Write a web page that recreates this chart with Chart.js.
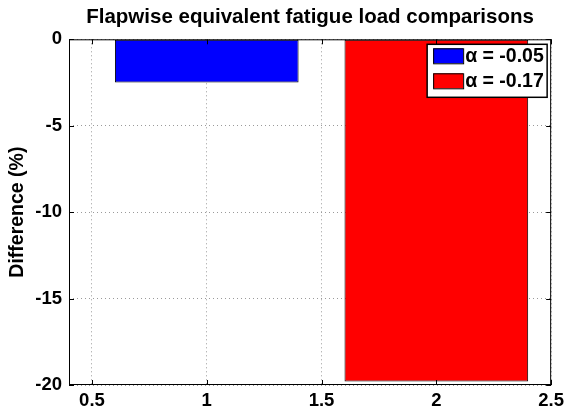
<!DOCTYPE html>
<html>
<head>
<meta charset="utf-8">
<script src="https://cdn.jsdelivr.net/npm/chart.js@4/dist/chart.umd.min.js"></script>
<style>
  html, body { margin: 0; padding: 0; background: #fff; }
  #wrap { width: 569px; height: 414px; }
</style>
</head>
<body>
<div id="wrap"><canvas id="grafico" width="569" height="414"></canvas></div>
<script>
// datos
const xTicks = [0.5, 1, 1.5, 2, 2.5];
const yTicks = [0, -5, -10, -15, -20];
const barX = [1, 2];
const seriesLabels = ['α = -0.05', 'α = -0.17'];
const seriesValues = [-2.5, -19.8];
const seriesColors = ['#0000ff', '#ff0000'];

const FONT = "'Liberation Sans', Arial, sans-serif";

// marco negro, marcas internas y leyenda estilo MATLAB
const marcoPlugin = {
  id: 'marco',
  afterDraw(chart) {
    const { ctx, chartArea: a, scales } = chart;
    ctx.save();
    ctx.strokeStyle = '#000';
    ctx.lineWidth = 1;
    ctx.strokeRect(a.left + 0.5, a.top + 0.5, a.right - a.left - 1, a.bottom - a.top - 1);

    const tl = 5;
    ctx.beginPath();
    xTicks.forEach(v => {
      const px = Math.round(scales.x.getPixelForValue(v)) + 0.5;
      ctx.moveTo(px, a.bottom); ctx.lineTo(px, a.bottom - tl);
      ctx.moveTo(px, a.top); ctx.lineTo(px, a.top + tl);
    });
    yTicks.forEach(v => {
      const py = Math.round(scales.y.getPixelForValue(v)) + 0.5;
      ctx.moveTo(a.left, py); ctx.lineTo(a.left + tl, py);
      ctx.moveTo(a.right, py); ctx.lineTo(a.right - tl, py);
    });
    ctx.stroke();

    // leyenda
    const bx = a.right - 124, by = a.top + 5, bw = 120, bh = 53;
    ctx.fillStyle = '#fff';
    ctx.fillRect(bx, by, bw, bh);
    ctx.lineWidth = 1.5;
    ctx.strokeRect(bx, by, bw, bh);
    ctx.font = 'bold 19.5px ' + FONT;
    ctx.textBaseline = 'middle';
    chart.data.datasets.forEach((ds, i) => {
      const ry = by + 4 + i * 25;
      ctx.fillStyle = ds.backgroundColor;
      ctx.fillRect(bx + 6, ry, 30, 15);
      ctx.lineWidth = 1;
      ctx.strokeStyle = '#000';
      ctx.strokeRect(bx + 6.5, ry + 0.5, 30, 15);
      ctx.fillStyle = '#000';
      ctx.fillText(ds.label, bx + 38, ry + 8.5);
    });
    ctx.restore();
  }
};

const datasets = seriesLabels.map((label, i) => ({
  label,
  data: [{ x: barX[i], y: seriesValues[i] }],
  backgroundColor: seriesColors[i],
  borderColor: '#000',
  borderWidth: 1,
  borderSkipped: false,
  grouped: false,
  categoryPercentage: 0.8,
  barPercentage: 1,
  xAxisID: 'xb'
}));

new Chart(document.getElementById('grafico'), {
  type: 'bar',
  data: { datasets },
  options: {
    responsive: false,
    animation: false,
    devicePixelRatio: 1,
    layout: { padding: { left: 0, right: 16, top: 0, bottom: 0 } },
    plugins: {
      legend: { display: false },
      tooltip: { enabled: false },
      title: {
        display: true,
        fullSize: false,
        text: 'Flapwise equivalent fatigue load comparisons',
        color: '#000',
        font: { family: FONT, size: 20.5, weight: 'bold' },
        padding: { top: 5, bottom: 9.7 }
      }
    },
    scales: {
      x: {
        type: 'linear',
        position: 'bottom',
        offset: false,
        min: 0.4,
        max: 2.5,
        afterBuildTicks: s => { s.ticks = xTicks.map(v => ({ value: v })); },
        afterFit: s => { s.height = 29; },
        grid: { color: '#9a9a9a', lineWidth: 1, drawTicks: false, offset: false },
        border: { display: false, dash: [1, 3] },
        ticks: {
          color: '#000',
          padding: 5,
          maxRotation: 0,
          autoSkip: false,
          callback: v => String(v),
          font: { family: FONT, size: 18.5, weight: 'bold' }
        }
      },
      xb: {
        type: 'linear',
        axis: 'x',
        position: 'bottom',
        display: false,
        offset: false,
        grid: { offset: false },
        min: 0.4,
        max: 2.5,
        afterBuildTicks: s => { s.ticks = barX.map(v => ({ value: v })); }
      },
      y: {
        type: 'linear',
        min: -20,
        max: 0,
        afterBuildTicks: s => { s.ticks = yTicks.map(v => ({ value: v })); },
        afterFit: s => { s.width = 69; },
        grid: { color: '#9a9a9a', lineWidth: 1, drawTicks: false },
        border: { display: false, dash: [1, 3] },
        title: {
          display: true,
          text: 'Difference (%)',
          color: '#000',
          font: { family: FONT, size: 19.5, weight: 'bold' },
          padding: { top: 6.3, bottom: 0 }
        },
        ticks: {
          color: '#000',
          padding: 7,
          callback: v => String(v),
          font: { family: FONT, size: 18.5, weight: 'bold' }
        }
      }
    }
  },
  plugins: [marcoPlugin]
});
</script>
</body>
</html>
